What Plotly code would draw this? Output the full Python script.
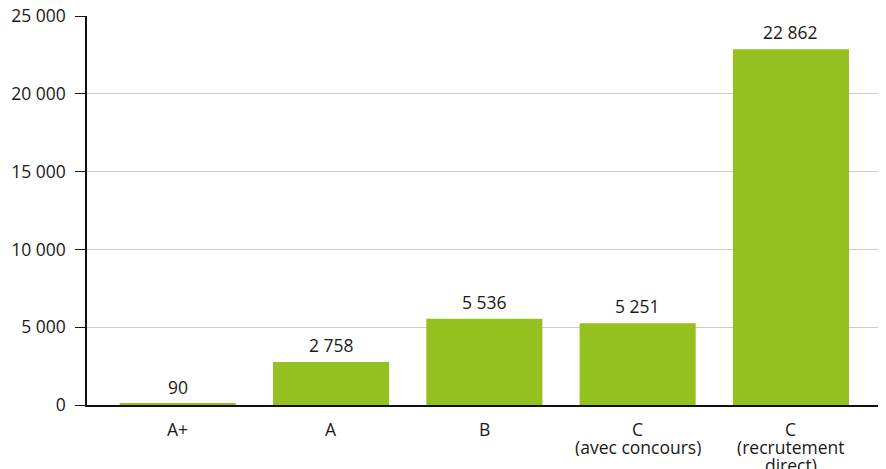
import plotly.graph_objects as go

categories = ["A+", "A", "B", "C (avec concours)", "C (recrutement direct)"]
category_lines = [["A+"], ["A"], ["B"], ["C", "(avec concours)"], ["C", "(recrutement", "direct)"]]
values = [90, 2758, 5536, 5251, 22862]
y_ticks = [0, 5000, 10000, 15000, 20000, 25000]
y_tick_labels = ["0", "5 000", "10 000", "15 000", "20 000", "25 000"]

FONT = "Open Sans, Noto Sans, sans-serif"
GREEN = "#95C11F"
TXT = "#1a1a1a"
FS = 17.5

fig = go.Figure()
fig.add_trace(go.Bar(
    x=categories, y=values, marker_color=GREEN, marker_line_width=0,
    width=0.757, hoverinfo="skip",
))

for c, v in zip(categories, values):
    lab = f"{v:,}".replace(",", " ")
    fig.add_annotation(x=c, y=v, text=lab, showarrow=False, yanchor="middle",
                       yshift=17, font=dict(family=FONT, size=FS, color=TXT))

for c, lines in zip(categories, category_lines):
    for i, line in enumerate(lines):
        fig.add_annotation(x=c, y=0, text=line, showarrow=False, yanchor="middle",
                           yshift=-(24 + 18 * i), height=18, borderpad=0,
                           font=dict(family=FONT, size=FS, color=TXT))

# page body has an 8px margin: size the figure to the remaining window
fig.update_layout(
    width=878, height=461,
    margin=dict(l=79, r=0, t=8, b=64, autoexpand=False),
    plot_bgcolor="white", paper_bgcolor="white",
    showlegend=False,
    font=dict(family=FONT, size=FS, color=TXT),
)
fig.update_xaxes(
    type="category", range=[-0.592, 4.62], automargin=False,
    showline=True, linecolor="#111", linewidth=1.5,
    ticks="", showgrid=False, showticklabels=False,
)
fig.update_yaxes(
    range=[0, 25000], tickvals=y_ticks, ticktext=y_tick_labels, automargin=False,
    showline=True, linecolor="#111", linewidth=1.5,
    ticks="outside", ticklen=10, tickcolor="#111", tickwidth=1,
    showgrid=True, gridcolor="#cccccc", gridwidth=1,
    zeroline=False, ticklabelstandoff=6, ticklabeloverflow="allow",
    tickfont=dict(family=FONT, size=FS, color=TXT),
)
fig.write_html("out.html")
